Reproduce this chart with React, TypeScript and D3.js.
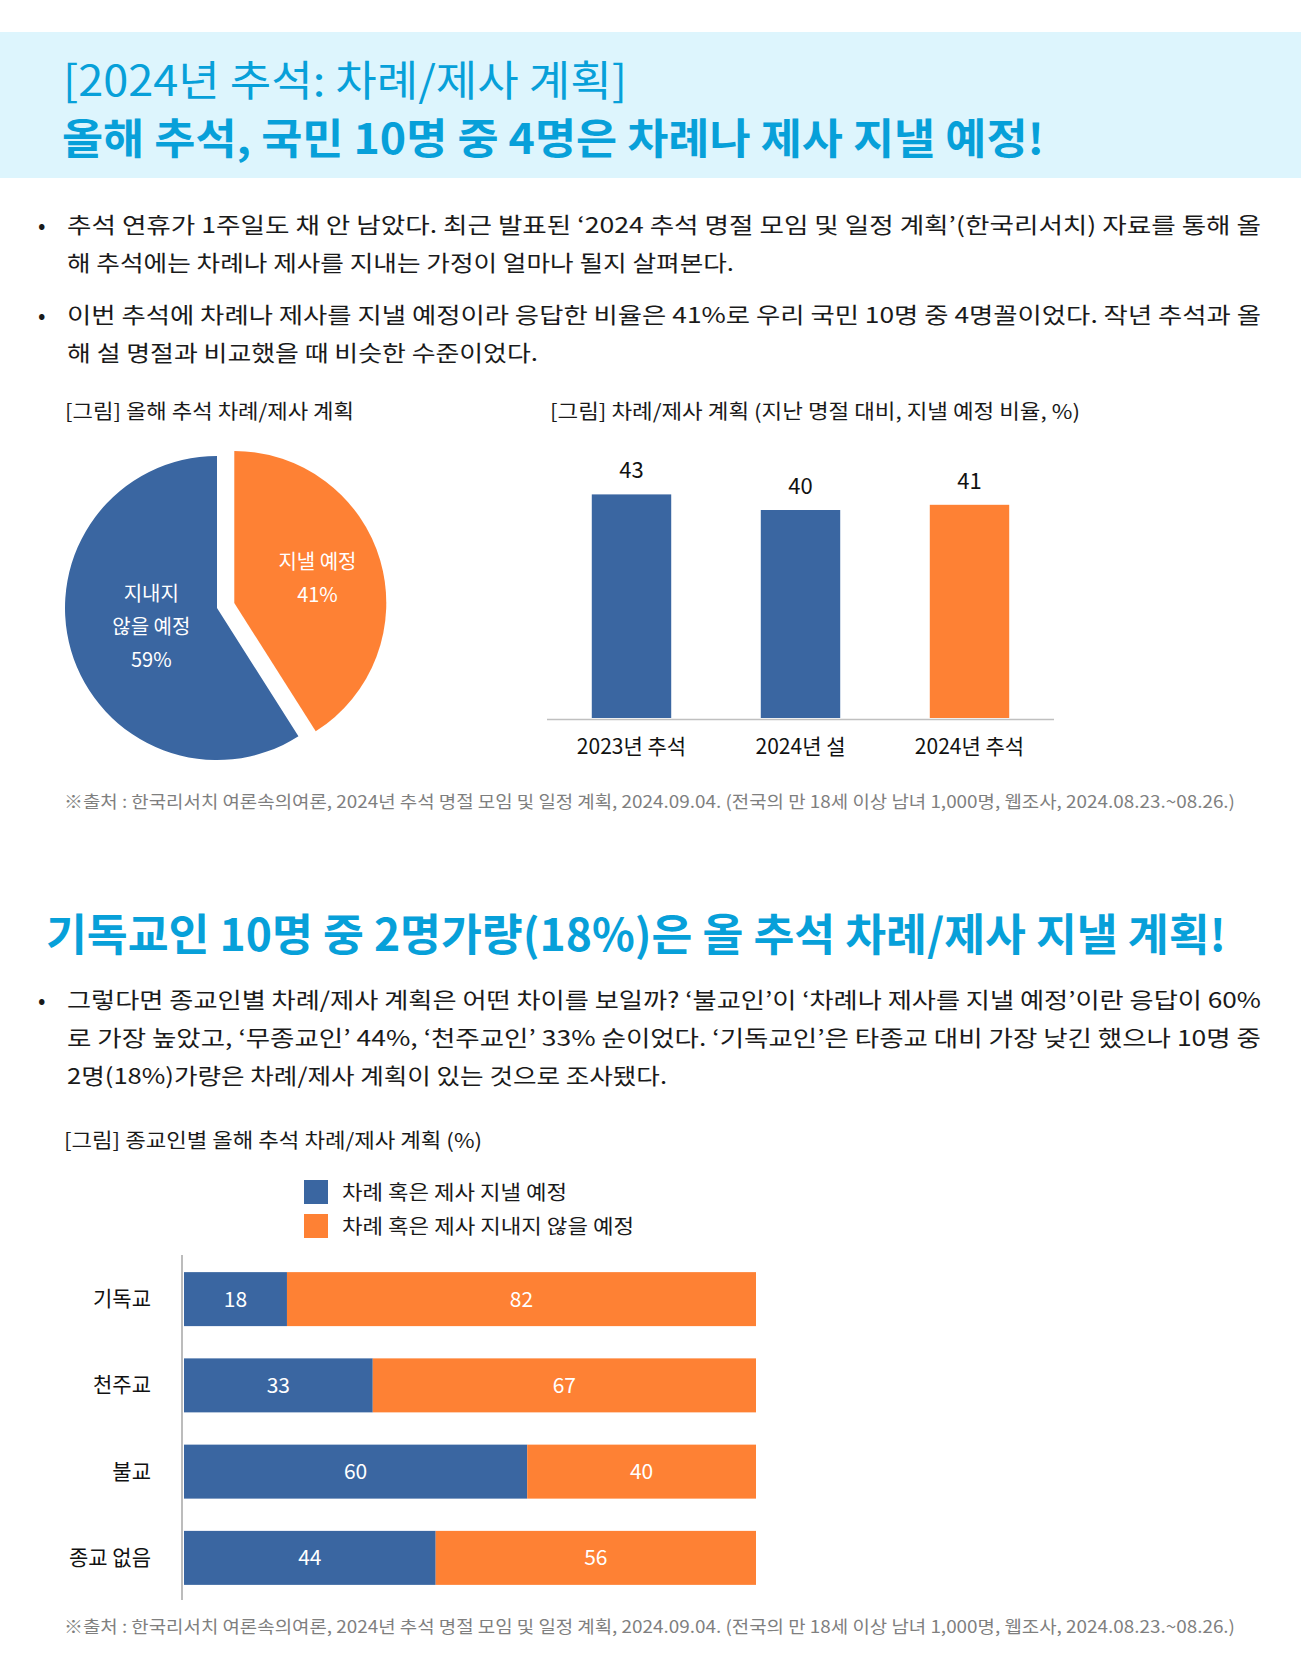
import React from 'react';
import * as d3 from 'd3';

const W = 1301;
const H = 1668;
const FONT = '"Noto Sans CJK KR", "Noto Sans", sans-serif';
const BLUE = '#3a66a1';
const ORANGE = '#fe8134';
const CYAN = '#07a0d9';

// pie: this year's plan
const pieLabels = ['지낼 예정', '지내지 않을 예정'];
const pieValues = [41, 59];
const pieLabelLines = [['지낼 예정', '41%'], ['지내지', '않을 예정', '59%']];

// bar: compared with past holidays
const barCategories = ['2023년 추석', '2024년 설', '2024년 추석'];
const barValues = [43, 40, 41];

// stacked bar: by religion
const religions = ['기독교', '천주교', '불교', '종교 없음'];
const willHold = [18, 33, 60, 44];
const willNotHold = [82, 67, 40, 56];
const legendLabels = ['차례 혹은 제사 지낼 예정', '차례 혹은 제사 지내지 않을 예정'];

const bullets1 = [
  ['추석 연휴가 1주일도 채 안 남았다. 최근 발표된 ‘2024 추석 명절 모임 및 일정 계획’(한국리서치) 자료를 통해 올', 1194],
  ['해 추석에는 차례나 제사를 지내는 가정이 얼마나 될지 살펴본다.', 667],
];
const bullets2 = [
  ['이번 추석에 차례나 제사를 지낼 예정이라 응답한 비율은 41%로 우리 국민 10명 중 4명꼴이었다. 작년 추석과 올', 1194],
  ['해 설 명절과 비교했을 때 비슷한 수준이었다.', 471],
];
const bullets3 = [
  ['그렇다면 종교인별 차례/제사 계획은 어떤 차이를 보일까? ‘불교인’이 ‘차례나 제사를 지낼 예정’이란 응답이 60%', 1194],
  ['로 가장 높았고, ‘무종교인’ 44%, ‘천주교인’ 33% 순이었다. ‘기독교인’은 타종교 대비 가장 낮긴 했으나 10명 중', 1194],
  ['2명(18%)가량은 차례/제사 계획이 있는 것으로 조사됐다.', 600],
];
const SOURCE = '※출처 : 한국리서치 여론속의여론, 2024년 추석 명절 모임 및 일정 계획, 2024.09.04. (전국의 만 18세 이상 남녀 1,000명, 웹조사, 2024.08.23.~08.26.)';

const Fit = ({ x, y, len, size, fill = '#1a1a1a', weight = 400, children }: any) => (
  <text x={x} y={y} textLength={len} lengthAdjust="spacingAndGlyphs"
    fontSize={size} fontWeight={weight} fill={fill}>{children}</text>
);

const Para = ({ lines, y0 }: { lines: any[]; y0: number }) => (
  <g>
    <text x={38} y={y0} fontSize={22} fill="#1a1a1a">•</text>
    {lines.map((l, i) => (
      <Fit key={i} x={67} y={y0 + i * 38} len={l[1]} size={22}>{l[0]}</Fit>
    ))}
  </g>
);

const PieChart = () => {
  const cx = 217, cy = 608, r = 152, explode = 18;
  const arcs = d3.pie<number>().sort(null)(pieValues);
  const arc = d3.arc<d3.PieArcDatum<number>>().innerRadius(0).outerRadius(r);
  const labelR = [0.57, 0.45];
  return (
    <g transform={`translate(${cx},${cy})`}>
      {arcs.map((a, i) => {
        const mid = (a.startAngle + a.endAngle) / 2;
        const off = i === 0 ? explode : 0;
        const dx = Math.sin(mid) * off, dy = -Math.cos(mid) * off;
        const lr = r * labelR[i];
        const lx = dx + Math.sin(mid) * lr, ly = dy - Math.cos(mid) * lr;
        const lines = pieLabelLines[i];
        return (
          <g key={pieLabels[i]}>
            <path d={arc(a) as string} fill={i === 0 ? ORANGE : BLUE} transform={`translate(${dx},${dy})`} />
            {lines.map((t, j) => (
              <text key={j} x={lx} y={ly - 1.5 + (j - (lines.length - 1) / 2) * 33} textAnchor="middle"
                dominantBaseline="central" fontSize={20} fill="#fff">{t}</text>
            ))}
          </g>
        );
      })}
    </g>
  );
};

const BarChart = () => {
  const x = d3.scaleBand().domain(barCategories).range([547, 1054]).paddingInner(0.53).paddingOuter(0.265);
  const y = d3.scaleLinear().domain([0, 50]).range([718, 458]);
  return (
    <g>
      {barCategories.map((c, i) => (
        <g key={c}>
          <rect x={x(c)} y={y(barValues[i])} width={x.bandwidth()} height={y(0) - y(barValues[i])}
            fill={i === 2 ? ORANGE : BLUE} />
          <text x={x(c)! + x.bandwidth() / 2} y={y(barValues[i]) - 26} textAnchor="middle"
            dominantBaseline="central" fontSize={22} fill="#111">{barValues[i]}</text>
          <text x={x(c)! + x.bandwidth() / 2} y={y(0) + 27} textAnchor="middle"
            dominantBaseline="central" fontSize={21} fill="#111">{c}</text>
        </g>
      ))}
      <line x1={547} x2={1054} y1={y(0) + 1.5} y2={y(0) + 1.5} stroke="#c0c0c0" strokeWidth={1.5} />
    </g>
  );
};

const StackedBar = () => {
  const x = d3.scaleLinear().domain([0, 100]).range([184, 756]);
  const y = d3.scaleBand().domain(religions).range([1256, 1601]).paddingInner(0.374).paddingOuter(0.187);
  return (
    <g>
      {religions.map((c, i) => {
        const yy = y(c)!, bh = y.bandwidth();
        const a = willHold[i], b = willNotHold[i];
        return (
          <g key={c}>
            <rect x={x(0)} y={yy} width={x(a) - x(0)} height={bh} fill={BLUE} />
            <rect x={x(a)} y={yy} width={x(a + b) - x(a)} height={bh} fill={ORANGE} />
            <text x={(x(0) + x(a)) / 2} y={yy + bh / 2 - 1.5} textAnchor="middle" dominantBaseline="central"
              fontSize={21} fill="#fff">{a}</text>
            <text x={(x(a) + x(a + b)) / 2} y={yy + bh / 2 - 1.5} textAnchor="middle" dominantBaseline="central"
              fontSize={21} fill="#fff">{b}</text>
            <text x={151} y={yy + bh / 2 - 2} textAnchor="end" dominantBaseline="central"
              fontSize={21} fill="#111">{c}</text>
          </g>
        );
      })}
      <line x1={182} x2={182} y1={1255} y2={1600} stroke="#a6a6a6" strokeWidth={1.5} />
      {legendLabels.map((l, i) => (
        <g key={l}>
          <rect x={304} y={1180 + i * 34} width={24} height={24} fill={i === 0 ? BLUE : ORANGE} />
          <Fit x={342} y={1200 + i * 34} len={i === 0 ? 225 : 292} size={20}>{l}</Fit>
        </g>
      ))}
    </g>
  );
};

export default function App() {
  return (
    <svg width={W} height={H} viewBox={`0 0 ${W} ${H}`}
      style={{ position: 'absolute', left: 0, top: 0, display: 'block', background: '#fff' }}
      fontFamily={FONT}>
      <rect x={0} y={0} width={W} height={H} fill="#fff" />
      <rect x={0} y={32} width={W} height={146} fill="#ddf5fd" />
      <Fit x={63} y={96} len={564} size={42} fill={CYAN}>[2024년 추석: 차례/제사 계획]</Fit>
      <Fit x={62} y={154} len={982} size={42} weight={700} fill={CYAN}>올해 추석, 국민 10명 중 4명은 차례나 제사 지낼 예정!</Fit>

      <Para lines={bullets1} y0={233} />
      <Para lines={bullets2} y0={323} />

      <Fit x={65} y={419} len={289} size={20}>[그림] 올해 추석 차례/제사 계획</Fit>
      <Fit x={550} y={419} len={530} size={20}>[그림] 차례/제사 계획 (지난 명절 대비, 지낼 예정 비율, %)</Fit>

      <PieChart />
      <BarChart />

      <Fit x={64} y={808} len={1171} size={17} fill="#7f7f7f">{SOURCE}</Fit>

      <Fit x={46} y={951} len={1180} size={44} weight={700} fill={CYAN}>기독교인 10명 중 2명가량(18%)은 올 추석 차례/제사 지낼 계획!</Fit>

      <Para lines={bullets3} y0={1008} />

      <Fit x={64} y={1148} len={418} size={20}>[그림] 종교인별 올해 추석 차례/제사 계획 (%)</Fit>

      <StackedBar />

      <Fit x={64} y={1633} len={1171} size={17} fill="#7f7f7f">{SOURCE}</Fit>
    </svg>
  );
}
